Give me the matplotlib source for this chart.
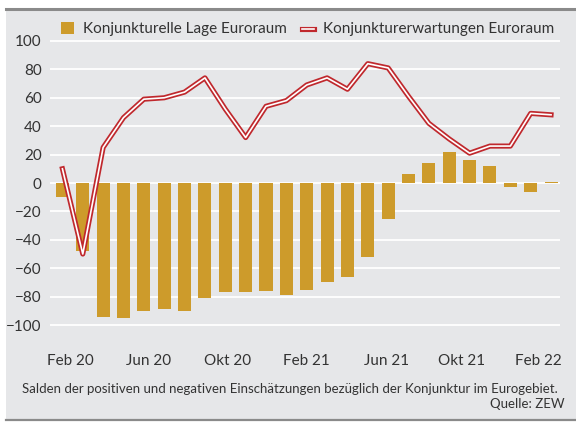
import matplotlib
matplotlib.use("Agg")
import matplotlib.pyplot as plt
from matplotlib.lines import Line2D
from matplotlib.patches import Rectangle

months = ["Feb 20", "Mär 20", "Apr 20", "Mai 20", "Jun 20", "Jul 20", "Aug 20", "Sep 20",
          "Okt 20", "Nov 20", "Dez 20", "Jan 21", "Feb 21", "Mär 21", "Apr 21", "Mai 21",
          "Jun 21", "Jul 21", "Aug 21", "Sep 21", "Okt 21", "Nov 21", "Dez 21", "Jan 22", "Feb 22"]
lage = [-10, -48, -94, -95, -90, -89, -90, -81, -77, -77, -76, -79, -75, -70, -66, -52,
        -25, 6, 14, 22, 16, 12, -3, -6, 1]
erwartung = [10, -50, 25, 46, 59, 60, 64, 74, 52, 32, 54, 58, 69, 74, 66, 84,
             81, 61, 42, 31, 21, 26, 26, 49, 48]
tick_labels = ["Feb 20", "Jun 20", "Okt 20", "Feb 21", "Jun 21", "Okt 21", "Feb 22"]
tick_pos = [0.37, 4.25, 8.13, 12.0, 15.9, 19.6, 23.4]

BG = "#e6e7e9"
GOLD = "#cd9b2b"
RED = "#c0282d"
TXT = "#333333"
plt.rcParams['font.family'] = ['Lato', 'DejaVu Sans']

fig = plt.figure(figsize=(5.76, 4.22), dpi=100)
fig.patch.set_facecolor("white")
# grey panel with dark rules top and bottom
fig.add_artist(Rectangle((6/576, 2/422), 570/576, 410/422, transform=fig.transFigure,
                         facecolor=BG, edgecolor="none", zorder=-5))
fig.add_artist(Line2D([6/576, 1], [1 - 8.5/422] * 2, color="#8a8a8a", lw=2.2, zorder=5))
fig.add_artist(Line2D([6/576, 1], [2.5/422] * 2, color="#8a8a8a", lw=1.6, zorder=5))

ax = fig.add_axes([50/576, 1 - 335/422, 510/576, 304/422])
ax.set_facecolor(BG)
x = list(range(len(months)))
ax.bar(x, lage, width=0.64, color=GOLD, zorder=2)
ax.plot(x, erwartung, color=RED, lw=3.7, zorder=3, solid_joinstyle="round")
ax.plot(x, erwartung, color="white", lw=1.2, zorder=4, solid_joinstyle="round")

ax.set_xlim(-0.61, 24.44)
ax.set_ylim(-107, 107)
ax.set_yticks(range(-100, 101, 20))
ax.yaxis.grid(True, color="white", lw=1.3, zorder=1)
ax.set_axisbelow(True)
ax.set_xticks(tick_pos)
ax.set_xticklabels(tick_labels)
ax.tick_params(length=0, labelsize=11, colors=TXT)
ax.tick_params(axis="x", pad=14)
ax.tick_params(axis="y", pad=6)
for s in ax.spines.values():
    s.set_visible(False)

# legend drawn by hand
fig.add_artist(Rectangle((61/576, 1 - 34/422), 13/576, 12/422, transform=fig.transFigure,
                         facecolor=GOLD, edgecolor="none", zorder=5))
fig.text(83/576, 1 - 29/422, "Konjunkturelle Lage Euroraum", fontsize=11, color=TXT, va="center")
fig.add_artist(Line2D([302/576, 314/576], [1 - 29/422] * 2, color=RED, lw=3.7, zorder=5))
fig.add_artist(Line2D([302/576, 314/576], [1 - 29/422] * 2, color="white", lw=1.2, zorder=6))
fig.text(323/576, 1 - 29/422, "Konjunkturerwartungen Euroraum", fontsize=11, color=TXT, va="center")

fig.text(22/576, 1 - 389/422,
         "Salden der positiven und negativen Einschätzungen bezüglich der Konjunktur im Eurogebiet.",
         fontsize=9.5, color=TXT, va="center")
fig.text(565/576, 1 - 404/422, "Quelle: ZEW", fontsize=9.5, color=TXT, va="center", ha="right")

fig.savefig("out.png", dpi=100, facecolor=fig.get_facecolor())
